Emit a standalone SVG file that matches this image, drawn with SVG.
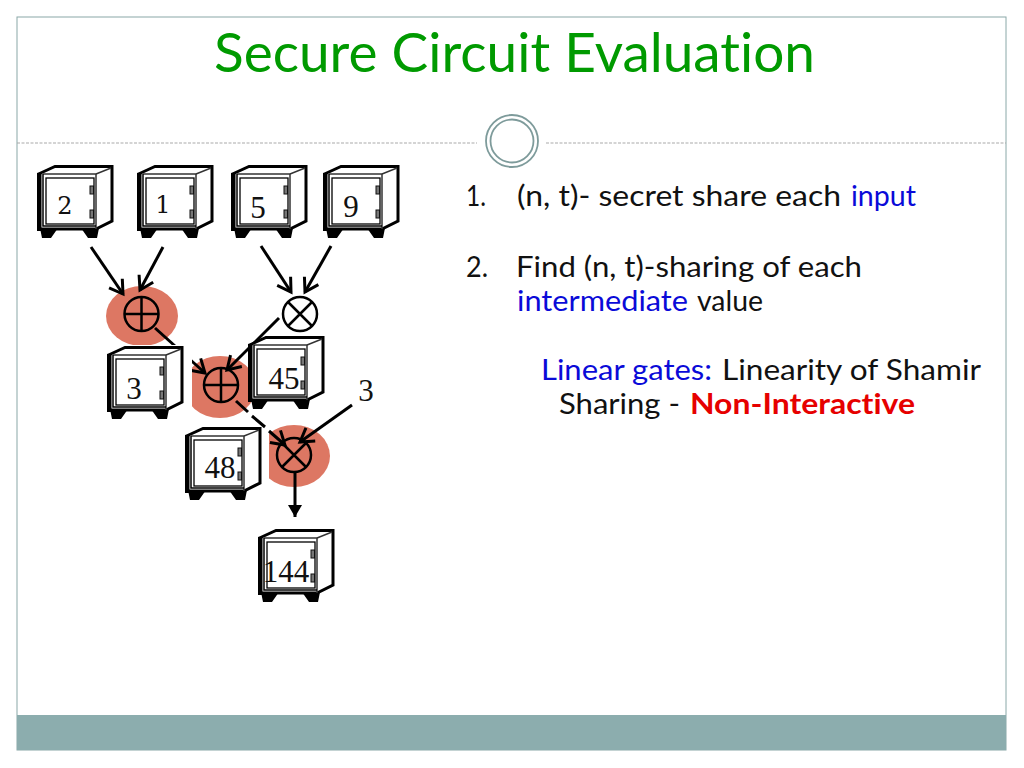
<svg xmlns="http://www.w3.org/2000/svg" xmlns:xlink="http://www.w3.org/1999/xlink" width="1024" height="768" viewBox="0 0 1024 768">
<style>
text{font-variant-ligatures:none}
.b{font-family:"Lato","Open Sans",sans-serif;font-size:28px;fill:#111}
.blue{fill:#0a0ad8}
.red{fill:#e60000;font-weight:700}
.t{font-family:"Liberation Serif",serif;font-size:31px;fill:#111;text-anchor:middle}
.s{font-family:"DejaVu Serif",serif;font-size:24px;fill:#111;text-anchor:middle}
.c{stroke:#000;stroke-width:3;fill:none}
.o{fill:#dd7763}
.g{fill:none;stroke:#000;stroke-width:2.500}
</style>
<defs>
<marker id="open" markerUnits="userSpaceOnUse" markerWidth="22" markerHeight="22" refX="16" refY="10" orient="auto" overflow="visible">
<path d="M3 2L16 10L3 18" fill="none" stroke="#000" stroke-width="3"/>
</marker>
<marker id="solid" markerUnits="userSpaceOnUse" markerWidth="16" markerHeight="16" refX="12" refY="7" orient="auto">
<path d="M0 0L12 7L0 14z" fill="#000"/>
</marker>
<g id="safe">
<path d="M3 63L5 73H14L21 63zM44 63L51 73H60L62 63z" fill="#000"/>
<path d="M1.500 9L18 1.500H75V56L59 64H1.500z" fill="#fff" stroke="#000" stroke-width="3"/>
<rect x="0" y="8" width="4.500" height="58" fill="#000"/>
<path d="M6 9H59V64" fill="none" stroke="#333" stroke-width="1.500"/>
<path d="M6 9V61H59" fill="none" stroke="#000" stroke-width="1.500"/>
<path d="M59 9L74 3" stroke="#333" stroke-width="1.500"/>
<rect x="9" y="13" width="48" height="46" fill="#fff" stroke="#000" stroke-width="1.300"/>
<rect x="53" y="21" width="3.500" height="8" fill="#777" stroke="#111" stroke-width="1"/>
<rect x="53" y="45" width="3.500" height="8" fill="#777" stroke="#111" stroke-width="1"/>
</g>
</defs>

<rect width="1024" height="768" fill="#fff"/>
<rect x="17" y="17" width="989" height="733" fill="#fff" stroke="#8aa8a8" stroke-width="1"/>
<rect x="17" y="715" width="989" height="35" fill="#8cadae"/>
<path d="M17 143H477M546 143H1006" stroke="#aaa" stroke-width="1.200" stroke-dasharray="3 1.500" fill="none"/>
<g id="ornament" fill="#fff" stroke="#7e9b9b" stroke-width="1.800">
<circle cx="512" cy="141" r="26"/>
<circle cx="512" cy="141" r="21.500"/>
</g>

<text id="title" x="214" y="72" textLength="601" lengthAdjust="spacingAndGlyphs" style="font-family:'Lato','Open Sans',sans-serif;font-size:54px;fill:#009a00">Secure Circuit Evaluation</text>

<g id="gate-fills">
<ellipse class="o" cx="142" cy="316" rx="36" ry="30"/>
<ellipse class="o" cx="220" cy="387" rx="36" ry="31"/>
<ellipse class="o" cx="294" cy="456" rx="36" ry="31"/>
</g>

<g id="connectors" class="c">
<path d="M155 328L205 373" marker-end="url(#open)"/>
<path d="M279 318L227 370" marker-end="url(#open)"/>
</g>

<g id="safe-3"><rect x="105" y="345" width="87" height="76" fill="#fff"/><use href="#safe" x="107" y="346"/><text class="t" x="134" y="399">3</text></g>
<g id="safe-45"><use href="#safe" x="248" y="336"/><text class="t" x="284" y="389">45</text></g>
<g id="safe-48"><rect x="185" y="427" width="84" height="73" fill="#fff"/><use href="#safe" x="185" y="427"/><text class="t" x="220" y="478">48</text></g>
<g id="safe-144"><use href="#safe" x="258" y="529"/><text class="t" x="286" y="582">144</text></g>
<g id="safe-2"><use href="#safe" x="37" y="165"/><text class="s" x="65" y="214">2</text></g>
<g id="safe-1"><use href="#safe" x="137" y="165"/><text class="s" x="163" y="213">1</text></g>
<g id="safe-5"><use href="#safe" x="231" y="165"/><text class="t" x="258" y="218">5</text></g>
<g id="safe-9"><use href="#safe" x="323" y="165"/><text class="t" x="351" y="217">9</text></g>

<g id="gate-add-1"><circle class="g" cx="141.500" cy="314" r="17"/><path class="g" d="M124.500 314h34M141.500 297v34"/></g>
<g id="gate-add-2"><circle class="g" cx="221" cy="385" r="17"/><path class="g" d="M204 385h34M221 368v34"/></g>
<g id="gate-mul-1"><circle class="g" cx="300" cy="314" r="17"/><path class="g" d="M288 302l24 24M312 302l-24 24"/></g>
<g id="gate-mul-2"><circle class="g" cx="294" cy="455" r="17"/><path class="g" d="M282 443l24 24M306 443l-24 24"/></g>

<g id="connectors-top" class="c">
<path d="M91 247L123 294" marker-end="url(#open)"/>
<path d="M163 247L140 290" marker-end="url(#open)"/>
<path d="M261 246L291 292" marker-end="url(#open)"/>
<path d="M331 246L305 292" marker-end="url(#open)"/>
<path d="M236 401L248 412M252 416L265 427M269 431L285 445" marker-end="url(#open)"/>
<path d="M352 405L300 442" marker-end="url(#open)"/>
<path d="M295 472V517" marker-end="url(#solid)"/>
</g>
<text id="loose-3" class="t" x="366" y="401">3</text>

<g id="text-block">
<text class="b" x="466" y="206" textLength="20" lengthAdjust="spacingAndGlyphs">1.</text>
<text class="b" x="517" y="206" textLength="324" lengthAdjust="spacingAndGlyphs">(n, t)- secret share each</text>
<text class="b blue" x="851" y="206" textLength="65" lengthAdjust="spacingAndGlyphs">input</text>
<text class="b" x="466" y="277" textLength="22" lengthAdjust="spacingAndGlyphs">2.</text>
<text class="b" x="516" y="277" textLength="346" lengthAdjust="spacingAndGlyphs">Find (n, t)-sharing of each</text>
<text class="b blue" x="517" y="311" textLength="171" lengthAdjust="spacingAndGlyphs">intermediate</text>
<text class="b" x="697" y="311" textLength="66" lengthAdjust="spacingAndGlyphs">value</text>
<text class="b blue" x="541" y="380" textLength="171" lengthAdjust="spacingAndGlyphs">Linear gates:</text>
<text class="b" x="722" y="380" textLength="259" lengthAdjust="spacingAndGlyphs">Linearity of Shamir</text>
<text class="b" x="559" y="414" textLength="121" lengthAdjust="spacingAndGlyphs">Sharing -</text>
<text class="b red" x="690" y="414" textLength="225" lengthAdjust="spacingAndGlyphs">Non-Interactive</text>
</g>
</svg>
